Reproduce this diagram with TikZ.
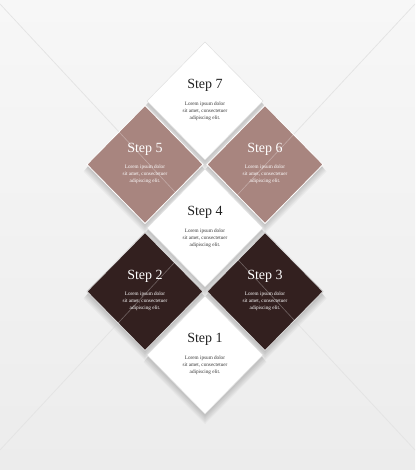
\documentclass[tikz,border=0pt]{standalone}
\usepackage{fontspec}
\setmainfont{Liberation Serif}
\usetikzlibrary{shapes.geometric}
\definecolor{mauve}{HTML}{A8857F}
\definecolor{darkbrown}{HTML}{33201F}
\definecolor{bgtop}{HTML}{F7F7F7}
\definecolor{bgbot}{HTML}{ECECEC}
\definecolor{darktext}{HTML}{222222}
\definecolor{bodytext}{HTML}{383838}
\newcommand\dshadow[2]{%
  \foreach \k in {0,...,5}{%
    \path[fill=black, fill opacity=0.03]
      (#1,#2+2.5+0.9*\k) ++(0,-58.5-0.7*\k) -- ++(58+0.7*\k,58.5+0.7*\k) -- ++(-58-0.7*\k,58.5+0.7*\k) -- ++(-58-0.7*\k,-58.5-0.7*\k) -- cycle;}}
\tikzset{
  dia/.style={diamond, inner sep=0pt, outer sep=0pt, minimum width=116pt, minimum height=118pt},
  whitedia/.style={dia, fill=white, draw=black!12, line width=0.5pt},
  mauvedia/.style={dia, fill=mauve, draw=white, line width=0.8pt},
  browndia/.style={dia, fill=darkbrown, draw=white!85!black, line width=0.8pt},
  ttl/.style={font=\fontsize{14}{16}\selectfont, inner sep=0pt},
  bodytxt/.style={font=\fontsize{5.2}{6.8}\selectfont, align=center, inner sep=0pt},
  crease/.style={line width=0.6pt},
}
\newcommand\lorem{Lorem ipsum dolor\\ sit amet, consectetuer\\ adipiscing elit.}
\begin{document}
\begin{tikzpicture}[x=1pt, y=-1pt]
\useasboundingbox (0,0) rectangle (415,470);
\shade[top color=bgtop, bottom color=bgbot] (0,0) rectangle (415,470);
% long creases
\coordinate (c1a) at (0,4);
\coordinate (c1b) at (415,450);
\coordinate (c2a) at (0,450);
\coordinate (c2b) at (415,4);
\draw[crease, draw=black!15] (c1a) -- (c1b);
\draw[crease, draw=black!15] (c2a) -- (c2b);
% shadows
\dshadow{205}{101}
\dshadow{145}{164.5}
\dshadow{265}{164.5}
\dshadow{205}{228}
\dshadow{145}{291.5}
\dshadow{265}{291.5}
\dshadow{205}{355}
% diamonds
\node[whitedia] (d7) at (205,101) {};
\node[mauvedia] (d5) at (145,164.5) {};
\node[mauvedia] (d6) at (265,164.5) {};
\node[whitedia] (d4) at (205,228) {};
\node[browndia] (d2) at (145,291.5) {};
\node[browndia] (d3) at (265,291.5) {};
\node[whitedia] (d1) at (205,355) {};
% creases over the diamonds
\draw[crease, draw=white, draw opacity=0.3] (c1a) -- (c1b);
\draw[crease, draw=white, draw opacity=0.3] (c2a) -- (c2b);
% texts
\node[ttl, text=darktext] (t7) at ([yshift=15.5pt]d7.center) {Step 7};
\node[bodytxt, text=bodytext] (b7) at ([yshift=-10pt]d7.center) {\lorem};
\node[ttl, text=white] (t5) at ([yshift=15.5pt]d5.center) {Step 5};
\node[bodytxt, text=white] (b5) at ([yshift=-10pt]d5.center) {\lorem};
\node[ttl, text=white] (t6) at ([yshift=15.5pt]d6.center) {Step 6};
\node[bodytxt, text=white] (b6) at ([yshift=-10pt]d6.center) {\lorem};
\node[ttl, text=darktext] (t4) at ([yshift=15.5pt]d4.center) {Step 4};
\node[bodytxt, text=bodytext] (b4) at ([yshift=-10pt]d4.center) {\lorem};
\node[ttl, text=white] (t2) at ([yshift=15.5pt]d2.center) {Step 2};
\node[bodytxt, text=white] (b2) at ([yshift=-10pt]d2.center) {\lorem};
\node[ttl, text=white] (t3) at ([yshift=15.5pt]d3.center) {Step 3};
\node[bodytxt, text=white] (b3) at ([yshift=-10pt]d3.center) {\lorem};
\node[ttl, text=darktext] (t1) at ([yshift=15.5pt]d1.center) {Step 1};
\node[bodytxt, text=bodytext] (b1) at ([yshift=-10pt]d1.center) {\lorem};
\end{tikzpicture}
\end{document}
